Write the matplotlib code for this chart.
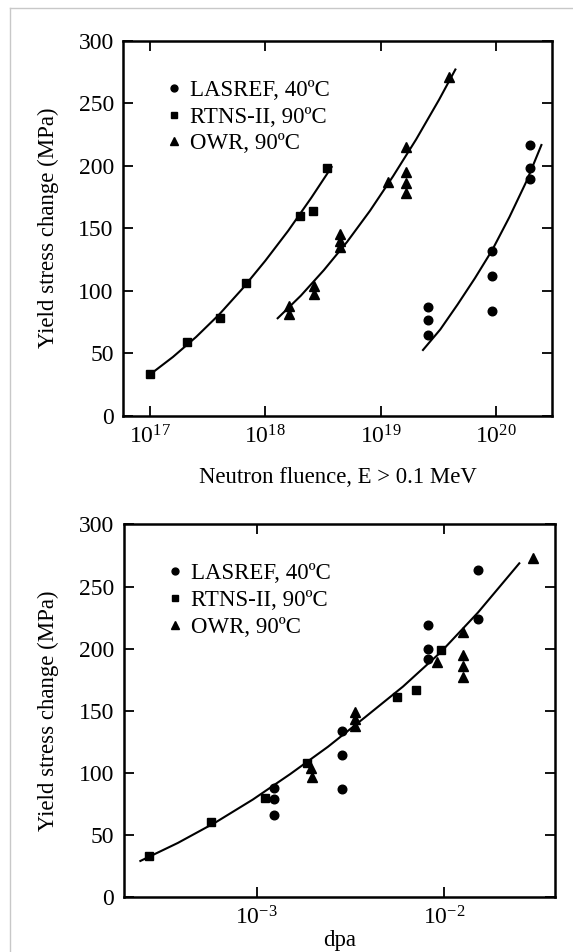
import numpy as np
import matplotlib
matplotlib.use("Agg")
import matplotlib.pyplot as plt
from matplotlib.lines import Line2D
from matplotlib.ticker import LogLocator, NullLocator, MultipleLocator

plt.rcParams['font.family'] = ['Liberation Serif', 'DejaVu Serif']
plt.rcParams['mathtext.fontset'] = 'stix'

# -----------------------------
# Top panel: yield stress change vs neutron fluence (E > 0.1 MeV)
# -----------------------------
las_fluence = [2.58e19, 2.58e19, 2.58e19, 9.25e19, 9.25e19, 9.25e19, 1.96e20, 1.96e20, 1.96e20]
las_dys_top = [87, 76.5, 64.5, 132, 112, 84, 216.5, 198.5, 189]

rtns_fluence = [1.0e17, 2.11e17, 4.06e17, 6.78e17, 2.0e18, 2.58e18, 3.42e18]
rtns_dys_top = [33, 59, 78, 106, 160, 164, 198]

owr_fluence = [1.61e18, 1.61e18, 2.62e18, 2.62e18, 4.46e18, 4.46e18, 4.46e18,
               1.17e19, 1.67e19, 1.67e19, 1.67e19, 1.67e19, 3.88e19]
owr_dys_top = [88, 81, 104, 97, 145, 140, 135, 187, 215, 195, 186, 178, 271]

# fit curves
fit1_fluence = [1.0e17, 1.58e17, 2.51e17, 3.98e17, 6.31e17, 1.0e18, 1.58e18, 2.51e18, 3.76e18]
fit1_dys = [33, 47, 63, 81, 101.5, 124, 148, 174.5, 199]
fit2_fluence = [1.28e18, 2.03e18, 3.22e18, 5.11e18, 8.09e18, 1.28e19, 2.03e19, 3.22e19, 4.45e19]
fit2_dys = [78, 96, 116.5, 139, 164, 191.5, 221, 253, 277]
fit3_fluence = [2.33e19, 3.29e19, 4.65e19, 6.57e19, 9.28e19, 1.31e20, 1.85e20, 2.48e20]
fit3_dys = [52.6, 69, 89, 110, 132.5, 159, 188, 216.6]

# -----------------------------
# Bottom panel: yield stress change vs dpa
# -----------------------------
las_dpa = [1.23e-3, 1.23e-3, 1.23e-3, 2.84e-3, 2.84e-3, 2.86e-3, 8.22e-3, 8.22e-3, 8.22e-3, 1.52e-2, 1.52e-2]
las_dys = [88, 79, 66, 134, 114, 87, 219, 200, 191.5, 263, 224]

rtns_dpa = [2.68e-4, 5.69e-4, 1.107e-3, 1.86e-3, 5.57e-3, 7.05e-3, 9.57e-3]
rtns_dys = [33, 60, 80, 108, 161, 167, 199]

owr_dpa = [1.96e-3, 1.98e-3, 3.34e-3, 3.34e-3, 3.34e-3, 9.18e-3,
           1.26e-2, 1.26e-2, 1.26e-2, 1.26e-2, 2.98e-2]
owr_dys = [104, 97, 149, 143, 137.5, 189, 213.5, 195, 186, 177, 273]

fit_dpa = [2.40e-4, 3.80e-4, 6.03e-4, 9.55e-4, 1.51e-3, 2.40e-3, 3.80e-3,
           6.03e-3, 9.55e-3, 1.51e-2, 2.51e-2]
fit_dys = [29, 43.5, 60, 78.5, 99, 121, 145, 169.5, 197, 229, 268.7]

labels = ["LASREF, 40ºC", "RTNS-II, 90ºC", "OWR, 90ºC"]


def style_axes(ax):
    ax.set_ylim(0, 300)
    ax.yaxis.set_major_locator(MultipleLocator(50))
    ax.xaxis.set_minor_locator(NullLocator())
    ax.tick_params(which='major', direction='in', length=7, width=1.3,
                   top=True, right=True, labelsize=17, pad=7)
    for s in ax.spines.values():
        s.set_linewidth(1.8)
    ax.set_ylabel("Yield stress change (MPa)", fontsize=16.4, labelpad=14)


def draw_points(ax, las_x, las_y, rtns_x, rtns_y, owr_x, owr_y):
    ax.plot(las_x, las_y, 'o', color='black', ms=6.2, label=labels[0])
    ax.plot(rtns_x, rtns_y, 's', color='black', ms=5.6, label=labels[1])
    ax.plot(owr_x, owr_y, '^', color='black', ms=6.8, label=labels[2])
    ax.legend(loc='upper left', bbox_to_anchor=(0.08, 0.92), frameon=False,
              fontsize=16.5, handlelength=0.6, handletextpad=0.4,
              labelspacing=0.25, borderaxespad=0, markerscale=0.8)


fig = plt.figure(figsize=(5.73, 9.52), dpi=100)

ax1 = fig.add_axes([0.2155, 0.5633, 0.7478, 0.3939])
ax1.set_xscale('log')
ax1.set_xlim(10**16.77, 10**20.486)
ax1.xaxis.set_major_locator(LogLocator(base=10, numticks=10))
for fx, fy in [(fit1_fluence, fit1_dys), (fit2_fluence, fit2_dys), (fit3_fluence, fit3_dys)]:
    ax1.plot(fx, fy, '-', color='black', lw=1.5)
draw_points(ax1, las_fluence, las_dys_top, rtns_fluence, rtns_dys_top, owr_fluence, owr_dys_top)
style_axes(ax1)
ax1.set_xlabel("Neutron fluence, E > 0.1 MeV", fontsize=16.4, labelpad=13)

ax2 = fig.add_axes([0.2164, 0.0578, 0.7522, 0.3913])
ax2.set_xscale('log')
ax2.set_xlim(10**-3.707, 10**-1.41)
ax2.xaxis.set_major_locator(LogLocator(base=10, numticks=10))
ax2.plot(fit_dpa, fit_dys, '-', color='black', lw=1.5)
draw_points(ax2, las_dpa, las_dys, rtns_dpa, rtns_dys, owr_dpa, owr_dys)
style_axes(ax2)
ax2.set_xlabel("dpa", fontsize=16.4, labelpad=0)

# light grey frame of the original page
fig.add_artist(Line2D([10 / 573, 10 / 573], [0, 1 - 8 / 952], color='#c8c8c8', lw=1))
fig.add_artist(Line2D([10 / 573, 1], [1 - 8 / 952, 1 - 8 / 952], color='#c8c8c8', lw=1))

fig.savefig("out.png", dpi=100)
